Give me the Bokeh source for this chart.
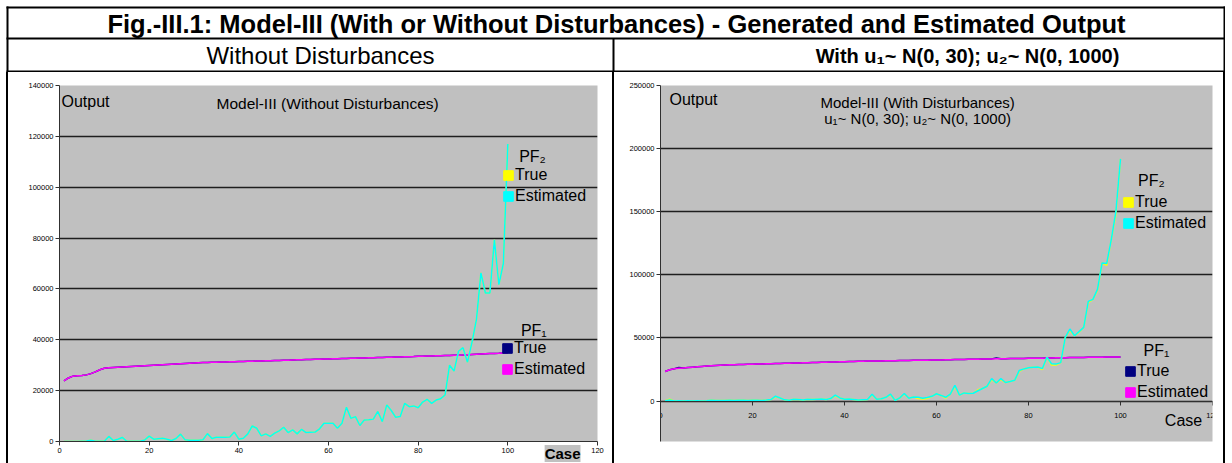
from bokeh.plotting import figure
from bokeh.layouts import column, row
from bokeh.models import (Range1d, Label, Legend, LegendItem, Spacer, FixedTicker,
                          BasicTickFormatter, Title)
from bokeh.embed import file_html
from bokeh.resources import INLINE

FONT = "Liberation Sans"
NAN = float("nan")

# ---------------- data ----------------
cases = list(range(1, 101))
x_ticks = [0, 20, 40, 60, 80, 100, 120]
left_y_ticks = [0, 20000, 40000, 60000, 80000, 100000, 120000, 140000]
right_y_ticks = [0, 50000, 100000, 150000, 200000, 250000]

# Left chart (without disturbances)
left_pf1_est = [23800, 25000, 25700, 25900, 26000, 26200, 26700, 27400, 28200, 28800,
                29000, 29100, 29200, 29300, 29400, 29500, 29600, 29700, 29800, 29900,
                30000, 30100, 30200, 30300, 30400, 30500, 30600, 30700, 30800, 30900,
                31000, 31050, 31100, 31150, 31200, 31250, 31300, 31350, 31400, 31450,
                31500, 31550, 31600, 31650, 31700, 31750, 31800, 31850, 31900, 31950,
                32000, 32050, 32100, 32150, 32200, 32250, 32300, 32350, 32400, 32450,
                32500, 32550, 32600, 32650, 32700, 32750, 32800, 32850, 32900, 32950,
                33000, 33050, 33100, 33150, 33200, 33250, 33300, 33350, 33400, 33500,
                33550, 33600, 33650, 33700, 33750, 33800, 33850, 33900, 33950, 34000,
                34100, 34200, 34300, 34400, 34500, 34600, 34650, 34700, 34800, 34900]
left_pf1_true = list(left_pf1_est)
left_pf2_est = [0, 0, 0, 0, 100, 200, 500, 100, 100, 100,
                2000, 400, 900, 1600, 100, 100, 100, 100, 600, 2100,
                900, 1100, 1300, 900, 400, 1200, 2900, 650, 500, 500,
                500, 700, 3100, 1200, 1700, 1700, 1700, 1800, 3700, 900,
                1300, 3000, 6100, 5200, 2200, 3000, 2000, 3300, 4200, 5600,
                3500, 4600, 3000, 4800, 3500, 3600, 3700, 5000, 7200, 7200,
                7200, 5200, 7200, 13500, 9100, 9800, 6300, 8500, 8600, 8800,
                11800, 7800, 14400, 12200, 9500, 9800, 15000, 13700, 14000, 13300,
                15500, 16600, 15000, 16300, 16800, 18300, 30000, 27700, 35500, 36900,
                31200, 39000, 48000, 66300, 58400, 58400, 79300, 61700, 70000, 117000]
left_pf2_true = list(left_pf2_est)

# Right chart (with disturbances)
right_pf1_est = [23500, 24800, 25600, 26000, 26300, 26600, 26900, 27200, 27500, 27800,
                 28000, 28200, 28400, 28600, 28700, 28800, 28900, 29000, 29100, 29200,
                 29300, 29400, 29500, 29600, 29700, 29800, 29900, 30000, 30100, 30200,
                 30300, 30400, 30500, 30600, 30700, 30800, 30900, 31000, 31100, 31200,
                 31300, 31400, 31500, 31600, 31700, 31750, 31800, 31850, 31900, 31950,
                 32000, 32100, 32200, 32250, 32300, 32350, 32400, 32450, 32500, 32550,
                 32600, 32700, 32800, 32900, 33000, 33050, 33100, 33150, 33200, 33300,
                 33400, 33450, 33500, 33550, 33600, 33650, 33700, 33750, 33800, 33850,
                 33900, 33950, 34000, 34100, 34200, 34300, 34350, 34400, 34450, 34500,
                 34550, 34600, 34650, 34700, 34750, 34800, 34850, 34900, 34950, 35000]
right_pf1_true = [23500, 24800, 25600, 26600, 26300, 26600, 26900, 27200, 27500, 27800,
                  28000, 28200, 28400, 28600, 28700, 28800, 28900, 29000, 29100, 29200,
                  29300, 29400, 29500, 29600, 29700, 29800, 29900, 30000, 30100, 30200,
                  30300, 30400, 30500, 30600, 30700, 30800, 30900, 31000, 31100, 31200,
                  31300, 31400, 31500, 31600, 31700, 31750, 31800, 31850, 31900, 31950,
                  32000, 32100, 32200, 32250, 32300, 32350, 32400, 32450, 32500, 32550,
                  32600, 32700, 32800, 32900, 33000, 33050, 33100, 33150, 33200, 33300,
                  33400, 33450, 34200, 33550, 33600, 33650, 33700, 33750, 33800, 33850,
                  33900, 33950, 34000, 34100, 34200, 34300, 34350, 34400, 34450, 34500,
                  34550, 34600, 34650, 34700, 34750, 34800, 34850, 34900, 34950, 35000]
right_pf2_est = [300, 800, 0, 200, 0, 300, 0, 200, 100, 300,
                 600, 500, 400, 500, 600, 500, 700, 600, 500, 600,
                 700, 500, 800, 1200, 3900, 2500, 1000, 600, 1500, 1200,
                 900, 1400, 1300, 1500, 1600, 1200, 2000, 4700, 2500, 1500,
                 1600, 1200, 800, 1000, 1200, 5500, 1500, 1800, 3000, 5500,
                 500, 2500, 6000, 2200, 3200, 3000, 2300, 2900, 3800, 5800,
                 4500, 3000, 5500, 12500, 4700, 6500, 6000, 6200, 8200, 10000,
                 11800, 17800, 14400, 17800, 14700, 15500, 16500, 24300, 25500, 26400,
                 26800, 27000, 25700, 34800, 29600, 29300, 30500, 50500, 57100, 51800,
                 55000, 58400, 79000, 80600, 88500, 109400, 109000, 128000, 150000, 191900]
right_pf2_true = [300, 1500, 0, 200, 0, 300, 0, 200, 100, 300,
                  600, 500, 400, 500, 600, 500, 700, 600, 500, 600,
                  700, 500, 800, 1200, 3400, 2500, 1000, 600, 1500, 1200,
                  900, 1400, 1300, 1500, 1600, 1200, 2000, 4200, 2500, 1500,
                  1600, 1200, 800, 1000, 1200, 5000, 1500, 1800, 3000, 5000,
                  500, 2500, 5600, 2200, 3200, 2000, 1600, 2000, 3800, 5800,
                  4500, 2300, 5500, 11600, 4700, 6500, 6000, 6200, 9000, 10000,
                  11800, 17000, 14400, 17000, 14700, 15500, 16500, 23600, 25500, 26400,
                  26800, 27000, 25000, 34800, 28600, 28500, 30500, 50500, 56000, 51800,
                  54500, 58400, 78000, 80600, 87500, 109400, 107500, 128000, 148000, 191900]

YELLOW = "#FFFF00"
CYAN = "#00FFFF"
NAVY = "#000080"
MAGENTA = "#FF00FF"
PLOT_BG = "#C0C0C0"


def make_chart(width, height, mb_left, mb_right, mb_top, mb_bottom, y_start, y_end, y_ticks):
    p = figure(width=width, height=height, x_range=Range1d(0, 120),
               y_range=Range1d(y_start, y_end), toolbar_location=None,
               output_backend="svg", min_border_left=mb_left,
               min_border_right=mb_right, min_border_top=mb_top,
               min_border_bottom=mb_bottom)
    p.background_fill_color = PLOT_BG
    p.border_fill_color = "white"
    p.outline_line_color = None
    p.xgrid.visible = False
    p.ygrid.ticker = FixedTicker(ticks=y_ticks)
    p.ygrid.grid_line_color = "#1e1e1e"
    p.ygrid.grid_line_width = 1.5
    p.xaxis.ticker = FixedTicker(ticks=x_ticks)
    p.yaxis.ticker = FixedTicker(ticks=y_ticks)
    p.yaxis.formatter = BasicTickFormatter(use_scientific=False)
    for ax in list(p.xaxis) + list(p.yaxis):
        ax.major_label_text_font = FONT
        ax.major_label_text_font_size = "7.5px"
        ax.major_label_text_color = "black"
        ax.axis_line_color = "#303030"
        ax.major_tick_line_color = "#303030"
        ax.major_tick_in = 0
        ax.major_tick_out = 4
        ax.minor_tick_line_color = None
        ax.major_label_standoff = 2
    return p


def add_series(p, true_vals, est_vals, true_color, est_color):
    p.line(cases, true_vals, line_color=true_color, line_width=1.5)
    p.line(cases, est_vals, line_color=est_color, line_width=1.5)


def add_legend(p, entries, loc):
    items = []
    for lab, color in entries:
        r = p.quad(left=[NAN], right=[NAN], top=[NAN], bottom=[NAN],
                   fill_color=color, line_color=color)
        items.append(LegendItem(label=lab, renderers=[r]))
    leg = Legend(items=items, location=loc, orientation="vertical", padding=0, margin=0,
                 spacing=3, glyph_width=12, glyph_height=12, label_standoff=1,
                 label_text_font=FONT, label_text_font_size="16px",
                 label_text_color="black", border_line_color=None,
                 background_fill_alpha=0)
    p.add_layout(leg)


def txt(p, x, y, text, size="16px", align="left", baseline="middle", style="normal", **kw):
    p.add_layout(Label(x=x, y=y, text=text, text_font=FONT, text_font_size=size,
                       text_align=align, text_baseline=baseline, text_font_style=style,
                       text_color="black", **kw))


# ---------------- header (table rows) ----------------
HW = 1225
hdr = figure(width=HW, height=72, x_range=Range1d(0, HW), y_range=Range1d(72, 0),
             toolbar_location=None, output_backend="svg", min_border=0,
             x_axis_location=None, y_axis_location=None, outline_line_color=None)
hdr.xgrid.visible = False
hdr.ygrid.visible = False
hdr.segment(x0=[6, 6, 6, 7, 1224, 613], y0=[7, 38, 71, 6, 6, 38],
            x1=[1225, 1225, 1225, 7, 1224, 613], y1=[7, 38, 71, 72, 72, 72],
            line_color="black", line_width=2)
txt(hdr, 616, 23, "Fig.-III.1: Model-III (With or Without Disturbances) - Generated and Estimated Output",
    size="25.5px", align="center", style="bold")
txt(hdr, 320, 55, "Without Disturbances", size="24px", align="center")
txt(hdr, 967, 55, "With u\u2081~ N(0, 30); u\u2082~ N(0, 1000)", size="20px", align="center", style="bold")

# ---------------- left chart ----------------
pl = make_chart(604, 391, 51, 15, 12, 22, 0, 140000, left_y_ticks)
add_series(pl, left_pf1_true, left_pf1_est, NAVY, MAGENTA)
add_series(pl, left_pf2_true, left_pf2_est, YELLOW, CYAN)
txt(pl, 0, 140000, "Output", size="16px", baseline="top", x_offset=2, y_offset=-7)
txt(pl, 59.8, 133000, "Model-III (Without Disturbances)", size="15.5px", align="center")
txt(pl, 105.5, 112000, "PF\u2082", size="16px", align="center")
add_legend(pl, [("True", YELLOW), ("Estimated", CYAN)], (443, 236))
txt(pl, 105.8, 43500, "PF\u2081", size="16px", align="center")
add_legend(pl, [("True", NAVY), ("Estimated", MAGENTA)], (442, 63))
# axis name "Case", drawn in the panel under the x axis (pulled up next to the tick labels)
pl.add_layout(Title(text="Case", align="right", vertical_align="top", offset=17,
                    standoff=-21, text_font=FONT, text_font_size="15px",
                    text_font_style="bold", text_color="black",
                    background_fill_color=PLOT_BG), "below")

# ---------------- right chart ----------------
pr = make_chart(609, 391, 46, 11, 13, 18, -32000, 250000, right_y_ticks)
pr.xaxis.fixed_location = 0
pr.xaxis.major_label_standoff = 8
add_series(pr, right_pf1_true, right_pf1_est, NAVY, MAGENTA)
add_series(pr, right_pf2_true, right_pf2_est, YELLOW, CYAN)
txt(pr, 0, 250000, "Output", size="16px", baseline="top", x_offset=9, y_offset=-5)
txt(pr, 55.9, 236700, "Model-III (With Disturbances)", size="15px", align="center")
txt(pr, 55.9, 224100, "u\u2081~ N(0, 30); u\u2082~ N(0, 1000)", size="15px", align="center")
txt(pr, 106.7, 174400, "PF\u2082", size="16px", align="center")
add_legend(pr, [("True", YELLOW), ("Estimated", CYAN)], (462, 209))
txt(pr, 107.8, 40400, "PF\u2081", size="16px", align="center")
add_legend(pr, [("True", NAVY), ("Estimated", MAGENTA)], (464, 40))
txt(pr, 113.7, -15500, "Case", size="16px", align="center")


def vbar_border():
    return Spacer(width=2, height=391, styles={"background-color": "black"})


layout = column(hdr, row(Spacer(width=6, height=391), vbar_border(), pl, vbar_border(),
                         pr, vbar_border()))

open("out.html", "w").write(file_html(layout, INLINE))
